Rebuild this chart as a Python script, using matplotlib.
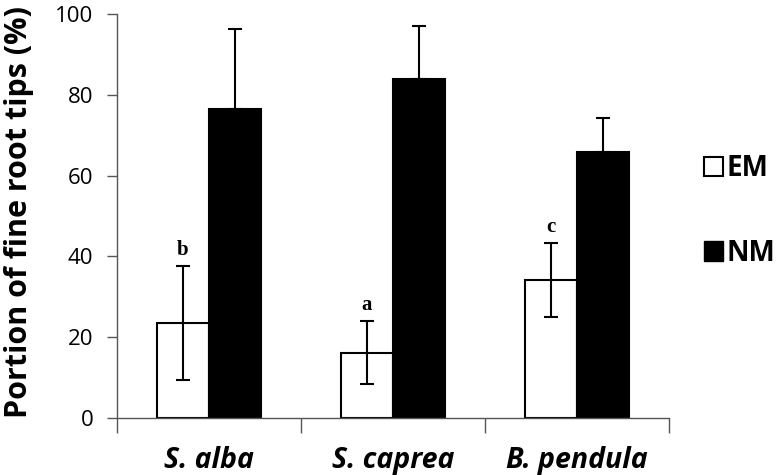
import matplotlib.pyplot as plt
import numpy as np
from matplotlib.patches import Patch

# data
species = ["S. alba", "S. caprea", "B. pendula"]
em_mean = [23.6, 16.2, 34.2]
em_err = [14.1, 7.9, 9.1]
nm_mean = [76.6, 84.0, 65.9]
nm_err = [19.6, 13.1, 8.3]
letters = ["b", "a", "c"]
yticks = [0, 20, 40, 60, 80, 100]

plt.rcParams['font.family'] = ['Open Sans', 'DejaVu Sans']

fig = plt.figure(figsize=(7.79, 4.75), dpi=100)
ax = fig.add_axes([0.150, 0.12, 0.709, 0.8505])

x = np.arange(len(species))
w = 0.283

# EM bars, error both ways
ax.bar(x - w / 2, em_mean, w, color='white', edgecolor='black', linewidth=1.5, zorder=2)
ax.errorbar(x - w / 2, em_mean, yerr=em_err, fmt='none', ecolor='black',
            elinewidth=1.5, capsize=5, capthick=1.5, zorder=3)

# NM bars, error upward only
ax.bar(x + w / 2, nm_mean, w, color='black', edgecolor='black', linewidth=1.5, zorder=2)
ax.errorbar(x + w / 2, nm_mean, yerr=[np.zeros(len(nm_err)), nm_err], fmt='none',
            ecolor='black', elinewidth=1.5, capsize=5, capthick=1.5, zorder=1)

# significance letters
for xi, m, e, lab in zip(x, em_mean, em_err, letters):
    ax.text(xi - w / 2, m + e + 1.5, lab, ha='center', va='bottom',
            family='Liberation Serif', fontweight='bold', fontsize=15)

ax.set_xlim(-0.5, len(species) - 0.5)
ax.set_ylim(0, 100)
ax.set_yticks(yticks)
ax.set_yticklabels([str(t) for t in yticks], fontsize=16)
ax.tick_params(axis='y', direction='out', length=7, width=1, color='#555555', pad=10)

# category boundary ticks on the x axis
ax.set_xticks(np.arange(-0.5, len(species), 1.0))
ax.set_xticklabels([])
ax.tick_params(axis='x', direction='out', length=11, width=1, color='#555555')
for xi, name in zip(x, species):
    ax.text(xi, -0.07, name, transform=ax.get_xaxis_transform(), ha='center', va='top',
            fontsize=20.5, fontweight='bold', fontstyle='italic')

for s in ['top', 'right']:
    ax.spines[s].set_visible(False)
for s in ['left', 'bottom']:
    ax.spines[s].set_color('#555555')
    ax.spines[s].set_linewidth(1)

ax.set_ylabel("Portion of fine root tips (%)", fontsize=22, fontweight='bold')
ax.yaxis.set_label_coords(-0.15, 0.51)

handles = [Patch(facecolor='white', edgecolor='black', linewidth=1.5, label='EM'),
           Patch(facecolor='black', edgecolor='black', label='NM')]
ax.legend(handles=handles, loc='center left', bbox_to_anchor=(1.063, 0.512), frameon=False,
          prop={'size': 20, 'weight': 'bold'}, handlelength=0.7, handleheight=0.7,
          handletextpad=0.12, labelspacing=2.0, borderpad=0, borderaxespad=0)

fig.savefig("out.png", dpi=100)
